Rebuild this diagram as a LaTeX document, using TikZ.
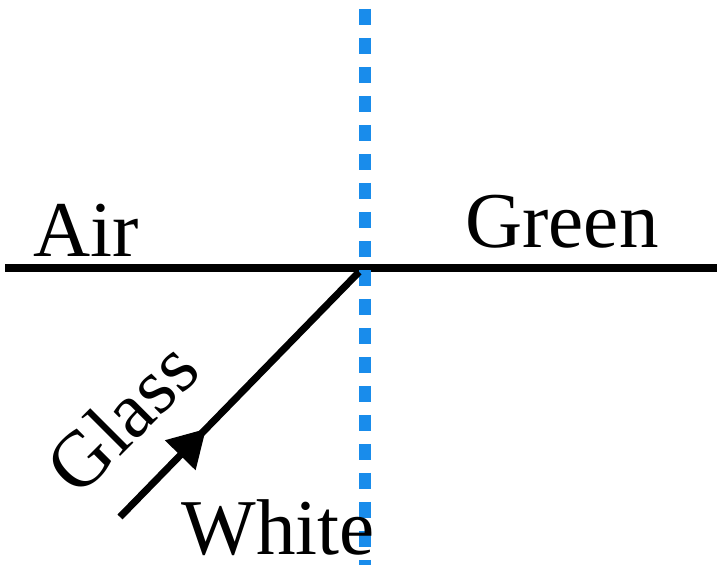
\documentclass[tikz,border=0pt]{standalone}
\usepackage{fontspec}
\setmainfont{Liberation Serif}
\usetikzlibrary{arrows.meta,decorations.markings}
\definecolor{normalblue}{RGB}{25,140,235}
\begin{document}
\begin{tikzpicture}[
    label text/.style={font=\fontsize{45}{45}\selectfont, inner sep=0pt},
    ray arrow/.style={decoration={markings,
        mark=at position 0.36 with {\arrow{Triangle[length=0.74cm,width=0.82cm]}}},
        postaction={decorate}}
]
    % --- 参数 ---
    \def\W{14.34}     % 宽度
    \def\H{11.3}      % 高度
    \def\Ysurf{5.94}  % 界面的高度
    \def\Xn{7.3}      % 法线位置

    \useasboundingbox (0,0) rectangle (\W,\H);

    % --- 界面与法线 ---
    \coordinate (left) at (0.1,\Ysurf);
    \coordinate (right) at (\W,\Ysurf);
    \draw[line width=4.5pt] (left) -- (right);

    \coordinate (top) at (\Xn,11.12);
    \coordinate (bottom) at (\Xn,0);
    \draw[normalblue, line width=6.8pt, dash pattern=on 0.32cm off 0.26cm] (top) -- (bottom);

    % --- 入射光线 ---
    \coordinate (src) at (2.4,0.96);
    \coordinate (hit) at (7.18,5.86);
    \draw[line width=4pt, ray arrow] (src) -- (hit);

    % --- 标签 ---
    \node[label text, anchor=base] (air) at (1.72,6.16) {Air};
    \node[label text, anchor=base] (green) at (11.24,6.34) {Green};
    \node[label text, anchor=base] (white) at (5.56,0.2) {White};
    \node[label text, rotate=45] (glass) at (2.44,2.96) {Glass};

\end{tikzpicture}
\end{document}
